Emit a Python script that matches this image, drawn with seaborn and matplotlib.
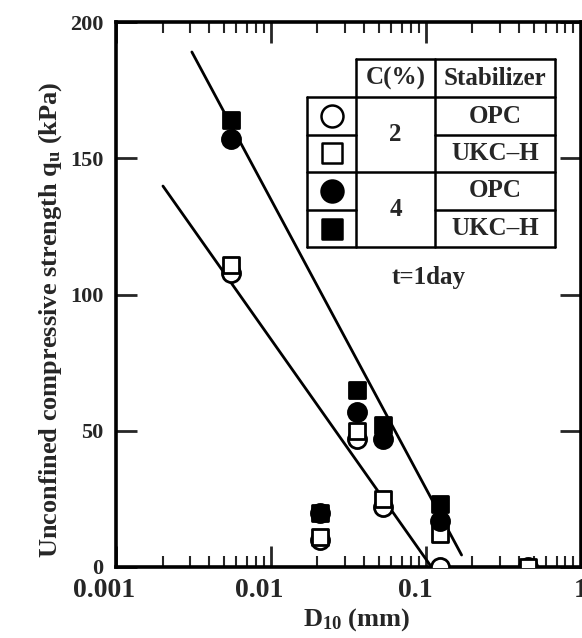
import matplotlib
matplotlib.use("Agg")
import matplotlib.pyplot as plt
import matplotlib.transforms as mtransforms
import seaborn as sns
import pandas as pd
import numpy as np
from matplotlib.ticker import LogLocator, NullFormatter, FixedLocator

sns.set_theme(style="ticks")
plt.rcParams['font.family'] = ['Liberation Serif', 'DejaVu Serif']
plt.rcParams['font.weight'] = 'bold'
plt.rcParams['mathtext.fontset'] = 'custom'
plt.rcParams['mathtext.rm'] = 'Liberation Serif:bold'
plt.rcParams['mathtext.bf'] = 'Liberation Serif:bold'
plt.rcParams['mathtext.it'] = 'Liberation Serif:bold'
plt.rcParams['mathtext.default'] = 'bf'

# ---- data ----
d10_all = [0.0055, 0.0207, 0.0359, 0.0528, 0.123]
qu_c2_opc = [108, 10, 47, 22, 0]
qu_c2_ukc = [111, 11, 50, 25, 12]
qu_c4_opc = [157, 20, 57, 47, 17]
qu_c4_ukc = [164, 20, 65, 52, 23]
d10_extra = [0.455]
qu_extra_c2 = [0]

fit_c4_x = [0.00309, 0.1706]
fit_c4_y = [189, 4.4]
fit_c2_x = [0.00201, 0.109]
fit_c2_y = [139.8, 0.0]

xtick_vals = [0.001, 0.01, 0.1, 1]
xtick_labels = ['0.001', '0.01', '0.1', '1']
ytick_vals = [0, 50, 100, 150, 200]

fig = plt.figure(figsize=(5.82, 6.38), dpi=100)
ax = fig.add_axes([116/582, 1-567/638, (580.5-116)/582, (567-22)/638])

# regression lines
line_df = pd.DataFrame({'x': fit_c4_x + fit_c2_x, 'y': fit_c4_y + fit_c2_y,
                        'g': ['c4']*2 + ['c2']*2})
for g in ['c4', 'c2']:
    sub = line_df[line_df.g == g]
    sns.lineplot(data=sub, x='x', y='y', ax=ax, color='black', lw=2.0, legend=False)

msz = 170
def scat(x, y, marker, filled, z):
    df = pd.DataFrame({'x': x, 'y': y})
    sns.scatterplot(data=df, x='x', y='y', ax=ax, marker=marker, s=msz if marker == 'o' else msz*0.85,
                    facecolor='black' if filled else 'white', edgecolor='black',
                    linewidth=2.0, zorder=z, legend=False)

scat(d10_all, qu_c2_opc, 'o', False, 3)
scat(d10_extra, qu_extra_c2, 'o', False, 3)
scat(d10_all, qu_c2_ukc, 's', False, 4)
scat(d10_extra, qu_extra_c2, 's', False, 4)
scat(d10_all, qu_c4_ukc, 's', True, 5)
scat(d10_all, qu_c4_opc, 'o', True, 6)

ax.set_xscale('log')
ax.set_xlim(0.001, 1)
ax.set_ylim(0, 200)
ax.xaxis.set_major_locator(FixedLocator(xtick_vals))
ax.xaxis.set_minor_locator(LogLocator(base=10, subs=np.arange(2, 10)))
ax.xaxis.set_minor_formatter(NullFormatter())
ax.set_xticklabels([])
ax.set_yticks(ytick_vals)
ax.set_yticklabels([str(v) for v in ytick_vals])
ax.tick_params(which='major', direction='in', length=15, width=2, top=True, right=True)
ax.tick_params(axis='y', labelsize=16, pad=9)
ax.tick_params(which='minor', direction='in', length=8, width=1.5, top=True, right=True)
for lab in ax.get_yticklabels():
    lab.set_fontweight('bold')
for sp in ax.spines.values():
    sp.set_linewidth(2.6)
    sp.set_color('black')

# x tick labels (placed under the ticks, slightly shifted left as in the original)
blend = mtransforms.blended_transform_factory(ax.transData, ax.transAxes)
shifts = [-12, -12, -10, 0]
for v, s, dx in zip(xtick_vals, xtick_labels, shifts):
    tr = blend + mtransforms.ScaledTranslation(dx/100, -11/100, fig.dpi_scale_trans)
    ax.text(v, 0, s, transform=tr, ha='center', va='top', fontsize=20,
            fontweight='bold', clip_on=False)

ax.set_xlabel(r'D$_{\mathbf{10}}$ (mm)', fontsize=19, fontweight='bold')
ax.xaxis.set_label_coords(0.517, -0.072)
ax.set_ylabel(r'Unconfined compressive strength q$_{\mathbf{u}}$ (kPa)', fontsize=19,
              fontweight='bold')
ax.yaxis.set_label_coords(-0.112, 0.453)

# ---- legend table (axes fraction) ----
tf = ax.transAxes
x0, x1, x2, x3 = 0.4116, 0.517, 0.6875, 0.946
ys = [0.932, 0.862, 0.793, 0.725, 0.655, 0.587]
lw = 1.8
kw = dict(transform=tf, color='black', lw=lw, zorder=10, clip_on=False)
ax.fill([x1, x3, x3, x0, x0, x1], [ys[0], ys[0], ys[5], ys[5], ys[1], ys[1]],
        transform=tf, color='white', zorder=9)
ax.plot([x1, x3], [ys[0], ys[0]], **kw)
ax.plot([x0, x3], [ys[1], ys[1]], **kw)
ax.plot([x0, x3], [ys[5], ys[5]], **kw)
ax.plot([x0, x0], [ys[1], ys[5]], **kw)
ax.plot([x1, x1], [ys[0], ys[5]], **kw)
ax.plot([x2, x2], [ys[0], ys[5]], **kw)
ax.plot([x3, x3], [ys[0], ys[5]], **kw)
for y in [ys[2], ys[4]]:
    ax.plot([x0, x1], [y, y], **kw)
    ax.plot([x2, x3], [y, y], **kw)
ax.plot([x0, x3], [ys[3], ys[3]], **kw)

tkw = dict(transform=tf, ha='center', va='center', fontsize=18, fontweight='bold', zorder=11)
ax.text((x1+x2)/2, (ys[0]+ys[1])/2, 'C(%)', **tkw)
ax.text((x2+x3)/2, (ys[0]+ys[1])/2, 'Stabilizer', **tkw)
ax.text((x1+x2)/2, (ys[1]+ys[3])/2, '2', **tkw)
ax.text((x1+x2)/2, (ys[3]+ys[5])/2, '4', **tkw)
for i, s in enumerate(['OPC', 'UKC–H', 'OPC', 'UKC–H']):
    ax.text((x2+x3)/2, (ys[i+1]+ys[i+2])/2, s, **tkw)
mk = [('o', 'white'), ('s', 'white'), ('o', 'black'), ('s', 'black')]
for i, (m, fc) in enumerate(mk):
    ax.scatter([(x0+x1)/2], [(ys[i+1]+ys[i+2])/2], transform=tf, marker=m,
               s=250 if m == 'o' else 200, facecolor=fc, edgecolor='black',
               linewidth=1.8, zorder=11, clip_on=False)

ax.text(0.672, 0.532, 't=1day', transform=tf, ha='center', va='center',
        fontsize=18, fontweight='bold')

fig.savefig('out.png', dpi=100)
